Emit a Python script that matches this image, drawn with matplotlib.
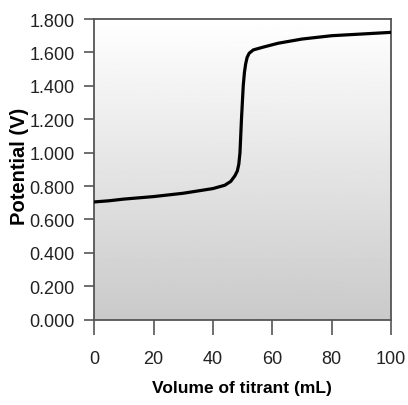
import numpy as np
import matplotlib
matplotlib.use("Agg")
import matplotlib.pyplot as plt

volume = [0, 5, 10, 20, 30, 40, 44, 46, 47.4, 48.2, 48.7, 49.1, 49.6, 50.2, 50.6, 51.0, 51.5, 52.2, 53.6,
          57, 62, 70, 80, 90, 100]
potential = [0.705, 0.712, 0.722, 0.737, 0.757, 0.785, 0.805, 0.828, 0.862, 0.89, 0.93, 1.00, 1.20, 1.40, 1.48,
             1.53, 1.57, 1.595, 1.615, 1.632, 1.655, 1.68, 1.70, 1.71, 1.72]
xticks = [0, 20, 40, 60, 80, 100]
yticks = [0.0, 0.2, 0.4, 0.6, 0.8, 1.0, 1.2, 1.4, 1.6, 1.8]

plt.rcParams['font.family'] = ['Liberation Sans', 'DejaVu Sans']

fig = plt.figure(figsize=(4.08, 4.06), dpi=100)
ax = fig.add_axes([94.3/408, 85.3/406, (391-94.3)/408, (320.7-20)/406])

grad = np.linspace(0.79, 1.0, 256).reshape(-1, 1)
ax.imshow(grad, cmap='gray', vmin=0, vmax=1, origin='lower', aspect='auto',
          extent=[0, 1, 0, 1], transform=ax.transAxes, zorder=0)

ax.plot(volume, potential, color='black', lw=2.3, zorder=3, solid_capstyle='round', solid_joinstyle='round')
ax.set_xlim(0, 100)
ax.set_ylim(0, 1.8)
ax.set_xticks(xticks)
ax.set_yticks(yticks)
ax.set_yticklabels([f"{v:.3f}" for v in yticks])
ax.set_xticklabels([str(v) for v in xticks])

for s in ax.spines.values():
    s.set_color('#555555')
    s.set_linewidth(1.3)
ax.tick_params(axis='y', length=7, width=1.2, color='#555555', labelsize=13, pad=7, labelcolor='#222222')
ax.tick_params(axis='x', length=11, width=1.2, color='#555555', labelsize=13, pad=11, labelcolor='#222222')

fig.text(241.7/408, 1 - 393/406, 'Volume of titrant (mL)', fontsize=12.5, fontweight='bold',
         ha='center', va='baseline')
fig.text(19.5/408, 1 - 166/406, 'Potential (V)', fontsize=14.5, fontweight='bold',
         ha='center', va='center', rotation=90)

fig.savefig('out.png', dpi=100)
